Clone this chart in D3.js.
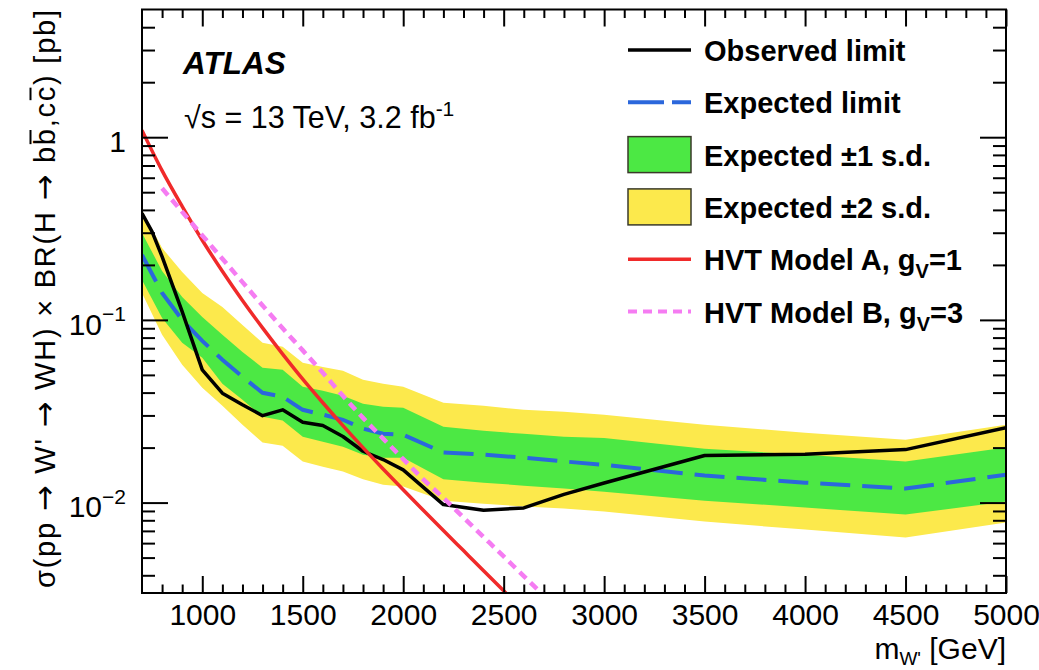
<!DOCTYPE html>
<html>
<head>
<meta charset="utf-8">
<script src="https://cdn.jsdelivr.net/npm/d3@7"></script>
<style>
  body { margin: 0; background: #fff; }
  text { font-family: "Liberation Sans", Arial, Helvetica, sans-serif; fill: #000; }
</style>
</head>
<body>
<svg id="chart" width="1039" height="670"></svg>
<script>
// W' -> WH limit data (cross section in pb vs. resonance mass in GeV)
const massPoints = [700, 800, 900, 1000, 1100, 1200, 1300, 1400, 1500, 1600, 1700, 1800, 1900, 2000, 2200, 2400, 2600, 2800, 3000, 3500, 4000, 4500, 5000];
const expectedLimit = [0.2265, 0.1405, 0.100, 0.0768, 0.0605, 0.0488, 0.0399, 0.0380, 0.0322, 0.0303, 0.0284, 0.0254, 0.0238, 0.0235, 0.0188, 0.0183, 0.0176, 0.0168, 0.0161, 0.01405, 0.01286, 0.01193, 0.01422];
const plusOneSigma = [0.299, 0.1852, 0.1336, 0.1038, 0.0828, 0.0668, 0.0547, 0.0533, 0.0430, 0.0409, 0.0384, 0.0348, 0.0335, 0.0330, 0.0260, 0.0247, 0.0238, 0.0229, 0.0226, 0.0197, 0.0183, 0.0168, 0.0200];
const minusOneSigma = [0.1654, 0.1025, 0.0749, 0.0620, 0.0447, 0.0365, 0.0295, 0.0281, 0.0229, 0.0215, 0.0202, 0.0183, 0.0176, 0.0176, 0.0134, 0.01286, 0.01238, 0.01193, 0.01148, 0.01025, 0.00939, 0.0086, 0.01013];
const plusTwoSigma = [0.399, 0.2474, 0.1829, 0.1405, 0.1178, 0.0939, 0.0749, 0.0712, 0.0582, 0.0553, 0.0526, 0.0470, 0.0447, 0.0430, 0.0352, 0.0339, 0.0322, 0.0314, 0.0303, 0.0267, 0.0241, 0.0221, 0.0267];
const minusTwoSigma = [0.1405, 0.0828, 0.0568, 0.0425, 0.0339, 0.0267, 0.0213, 0.0205, 0.0168, 0.0157, 0.0148, 0.0134, 0.01254, 0.01223, 0.01025, 0.00987, 0.00951, 0.00927, 0.00893, 0.00787, 0.00712, 0.00644, 0.00777];

const observedMass = [700, 750, 800, 900, 1000, 1100, 1200, 1300, 1400, 1500, 1600, 1700, 1800, 1900, 2000, 2200, 2400, 2600, 2800, 3000, 3500, 4000, 4500, 5000];
const observedLimit = [0.383, 0.304, 0.222, 0.111, 0.0533, 0.0397, 0.0343, 0.0299, 0.0322, 0.0275, 0.0264, 0.0230, 0.0191, 0.0172, 0.0151, 0.00975, 0.00908, 0.00935, 0.0111, 0.0128, 0.0181, 0.0184, 0.0195, 0.0257];

const hvtAMass = [700, 800, 900, 1000, 1100, 1200, 1300, 1400, 1500, 1600, 1700, 1800, 1900, 2000, 2100, 2200, 2300, 2400, 2500, 2600];
const hvtAXsec = [1.09, 0.656, 0.418, 0.273, 0.1845, 0.1276, 0.0904, 0.065, 0.0474, 0.0352, 0.0264, 0.0200, 0.01528, 0.01175, 0.00908, 0.00703, 0.00546, 0.00424, 0.00329, 0.00255];

const hvtBMass = [800, 900, 1000, 1100, 1200, 1300, 1400, 1500, 1600, 1700, 1800, 1900, 2000, 2100, 2200, 2300, 2400, 2500, 2600, 2700];
const hvtBXsec = [0.525, 0.390, 0.290, 0.216, 0.161, 0.120, 0.0899, 0.0681, 0.0513, 0.0384, 0.0291, 0.0224, 0.0173, 0.0134, 0.0106, 0.00828, 0.00648, 0.00507, 0.00396, 0.0031];

const xMajorTicks = [1000, 1500, 2000, 2500, 3000, 3500, 4000, 4500, 5000];
const yMajorTicks = [1, 0.1, 0.01];
const yTickExponents = [null, "\u22121", "\u22122"];

const legendLabels = ["Observed limit", "Expected limit", "Expected \u00b11 s.d.", "Expected \u00b12 s.d.", "HVT Model A, g", "HVT Model B, g"];

// y-axis title pieces: arrows use a wider arrow glyph, "bar" pieces get an overline
const yTitleParts = [
  { t: "\u03c3(pp " }, { t: "\u2192", arrow: true }, { t: " W' " }, { t: "\u2192", arrow: true },
  { t: " WH) \u00d7 BR(H " }, { t: "\u2192", arrow: true }, { t: " b" }, { t: "b", bar: true },
  { t: ",c" }, { t: "c", bar: true }, { t: ") [pb]" }
];

// ---- layout ----
const svg = d3.select("#chart");
const plotLeft = 142, plotRight = 1006, plotTop = 9.5, plotBottom = 593;

const x = d3.scaleLinear().domain([700, 5000]).range([plotLeft, plotRight]);
const y = d3.scaleLog().domain([0.0032, 5]).range([plotBottom, plotTop]);

const colors = {
  yellow: "#fce94c",
  green: "#4ce844",
  blue: "#2b67dc",
  red: "#f02a2a",
  magenta: "#f57cf2"
};

svg.append("defs").append("clipPath").attr("id", "plotClip")
  .append("rect").attr("x", plotLeft).attr("y", plotTop)
  .attr("width", plotRight - plotLeft).attr("height", plotBottom - plotTop);

const plot = svg.append("g").attr("clip-path", "url(#plotClip)");

const bandRows = massPoints.map((m, i) => ({
  m, exp: expectedLimit[i],
  p1: plusOneSigma[i], m1: minusOneSigma[i],
  p2: plusTwoSigma[i], m2: minusTwoSigma[i]
}));

const area2 = d3.area().x(d => x(d.m)).y0(d => y(d.m2)).y1(d => y(d.p2));
const area1 = d3.area().x(d => x(d.m)).y0(d => y(d.m1)).y1(d => y(d.p1));

plot.append("path").datum(bandRows).attr("d", area2).attr("fill", colors.yellow);
plot.append("path").datum(bandRows).attr("d", area1).attr("fill", colors.green);

const line = d3.line().x(d => x(d[0])).y(d => y(d[1]));

plot.append("path")
  .datum(massPoints.map((m, i) => [m, expectedLimit[i]]))
  .attr("d", line).attr("fill", "none")
  .attr("stroke", colors.blue).attr("stroke-width", 4)
  .attr("stroke-dasharray", "30,12");

plot.append("path")
  .datum(observedMass.map((m, i) => [m, observedLimit[i]]))
  .attr("d", line).attr("fill", "none")
  .attr("stroke", "#000").attr("stroke-width", 3.5)
  .attr("stroke-linejoin", "round");

const smooth = d3.line().x(d => x(d[0])).y(d => y(d[1])).curve(d3.curveMonotoneX);

plot.append("path")
  .datum(hvtAMass.map((m, i) => [m, hvtAXsec[i]]))
  .attr("d", smooth).attr("fill", "none")
  .attr("stroke", colors.red).attr("stroke-width", 3.5);

plot.append("path")
  .datum(hvtBMass.map((m, i) => [m, hvtBXsec[i]]))
  .attr("d", smooth).attr("fill", "none")
  .attr("stroke", colors.magenta).attr("stroke-width", 4.5)
  .attr("stroke-dasharray", "9,6");

// ---- axes (ticks drawn inward on all four sides) ----
const xMinor = d3.range(800, 5000, 100).filter(v => v % 500 !== 0);
const yMinor = [];
[0.001, 0.01, 0.1, 1].forEach(d => {
  for (let k = 2; k <= 9; k++) { const v = d * k; if (v > 0.0032 && v < 5) yMinor.push(v); }
});

function styleAxis(g) {
  g.select(".domain").remove();
  g.selectAll("line").attr("stroke", "#000").attr("stroke-width", 2);
  g.selectAll("text").style("font-family", "'Liberation Sans', Arial, sans-serif").attr("fill", "#000");
}

const xBottom = svg.append("g").attr("transform", `translate(0,${plotBottom})`)
  .call(d3.axisBottom(x).tickValues(xMajorTicks).tickSize(-17).tickPadding(11).tickFormat(d3.format("d")))
  .call(styleAxis);
xBottom.selectAll("text").attr("font-size", 30);

svg.append("g").attr("transform", `translate(0,${plotBottom})`)
  .call(d3.axisBottom(x).tickValues(xMinor).tickSize(-8.5).tickFormat(""))
  .call(styleAxis);
svg.append("g").attr("transform", `translate(0,${plotTop})`)
  .call(d3.axisTop(x).tickValues(xMajorTicks).tickSize(-17).tickFormat(""))
  .call(styleAxis);
svg.append("g").attr("transform", `translate(0,${plotTop})`)
  .call(d3.axisTop(x).tickValues(xMinor).tickSize(-8.5).tickFormat(""))
  .call(styleAxis);

const yLeft = svg.append("g").attr("transform", `translate(${plotLeft},0)`)
  .call(d3.axisLeft(y).tickValues(yMajorTicks).tickSize(-26).tickPadding(16).tickFormat(() => ""))
  .call(styleAxis);
yLeft.selectAll(".tick text").each(function(d, i) {
  const t = d3.select(this).attr("font-size", 30).attr("dy", "0.47em");
  if (yTickExponents[i] === null) {
    t.text("1");
  } else {
    t.text(null);
    t.append("tspan").text("10");
    t.append("tspan").attr("font-size", 21).attr("dy", "-0.62em").text(yTickExponents[i]);
  }
});
svg.append("g").attr("transform", `translate(${plotLeft},0)`)
  .call(d3.axisLeft(y).tickValues(yMinor).tickSize(-13).tickFormat(""))
  .call(styleAxis);
svg.append("g").attr("transform", `translate(${plotRight},0)`)
  .call(d3.axisRight(y).tickValues(yMajorTicks).tickSize(-26).tickFormat(""))
  .call(styleAxis);
svg.append("g").attr("transform", `translate(${plotRight},0)`)
  .call(d3.axisRight(y).tickValues(yMinor).tickSize(-13).tickFormat(""))
  .call(styleAxis);

// frame
svg.append("rect").attr("x", plotLeft).attr("y", plotTop)
  .attr("width", plotRight - plotLeft).attr("height", plotBottom - plotTop)
  .attr("fill", "none").attr("stroke", "#000").attr("stroke-width", 2);

// ---- axis titles ----
const xTitle = svg.append("text").attr("x", plotRight).attr("y", 659).attr("text-anchor", "end").attr("font-size", 30);
xTitle.append("tspan").text("m");
xTitle.append("tspan").attr("font-size", 19).attr("dy", 6).text("W'");
xTitle.append("tspan").attr("dy", -6).text(" [GeV]");

const yTitleG = svg.append("g").attr("transform", "translate(55,10) rotate(-90)");
const yTitle = yTitleG.append("text").attr("text-anchor", "end").attr("font-size", 29)
  .attr("textLength", 578).attr("lengthAdjust", "spacing");
yTitleParts.forEach(p => {
  const ts = yTitle.append("tspan").text(p.t);
  if (p.arrow) ts.style("font-family", "'DejaVu Sans', sans-serif").attr("font-size", 31);
});
// overlines on the anti-quarks
{
  const node = yTitle.node();
  let idx = 0;
  yTitleParts.forEach(p => {
    if (p.bar) {
      const ext = node.getExtentOfChar(idx);
      yTitleG.append("line")
        .attr("x1", ext.x + 1).attr("x2", ext.x + ext.width - 1)
        .attr("y1", -24.5).attr("y2", -24.5)
        .attr("stroke", "#000").attr("stroke-width", 2);
    }
    idx += p.t.length;
  });
}

// ---- ATLAS label ----
svg.append("text").attr("x", 183).attr("y", 74).attr("font-size", 31.5)
  .attr("font-weight", "bold").attr("font-style", "italic").text("ATLAS");
const energy = svg.append("text").attr("x", 184).attr("y", 128).attr("font-size", 30.5);
energy.append("tspan").text("\u221as = 13 TeV, 3.2 fb");
energy.append("tspan").attr("font-size", 21).attr("dy", -12).text("-1");

// ---- legend ----
const legX0 = 628, legX1 = 691, legTextX = 704, legY0 = 50, legStep = 52.3;
const legend = svg.append("g");
legendLabels.forEach((lab, i) => {
  const cy = legY0 + i * legStep;
  if (i === 0) {
    legend.append("line").attr("x1", legX0).attr("x2", legX1).attr("y1", cy).attr("y2", cy)
      .attr("stroke", "#000").attr("stroke-width", 3.5);
  } else if (i === 1) {
    legend.append("line").attr("x1", legX0).attr("x2", legX1).attr("y1", cy).attr("y2", cy)
      .attr("stroke", colors.blue).attr("stroke-width", 4).attr("stroke-dasharray", "36,8");
  } else if (i === 2 || i === 3) {
    legend.append("rect").attr("x", legX0).attr("y", cy - 18).attr("width", legX1 - legX0).attr("height", 36)
      .attr("fill", i === 2 ? colors.green : colors.yellow).attr("stroke", "#3a3a2a").attr("stroke-width", 1.5);
  } else if (i === 4) {
    legend.append("line").attr("x1", legX0).attr("x2", legX1).attr("y1", cy).attr("y2", cy)
      .attr("stroke", colors.red).attr("stroke-width", 3.5);
  } else {
    legend.append("line").attr("x1", legX0).attr("x2", legX1).attr("y1", cy).attr("y2", cy)
      .attr("stroke", colors.magenta).attr("stroke-width", 4).attr("stroke-dasharray", "9,6");
  }
  const t = legend.append("text").attr("x", legTextX).attr("y", cy + 11)
    .attr("font-size", 29).attr("font-weight", "bold");
  t.append("tspan").text(lab);
  if (i >= 4) {
    t.append("tspan").attr("font-size", 20).attr("dy", 8).text("V");
    t.append("tspan").attr("dy", -8).text(i === 4 ? "=1" : "=3");
  }
});
</script>
</body>
</html>
